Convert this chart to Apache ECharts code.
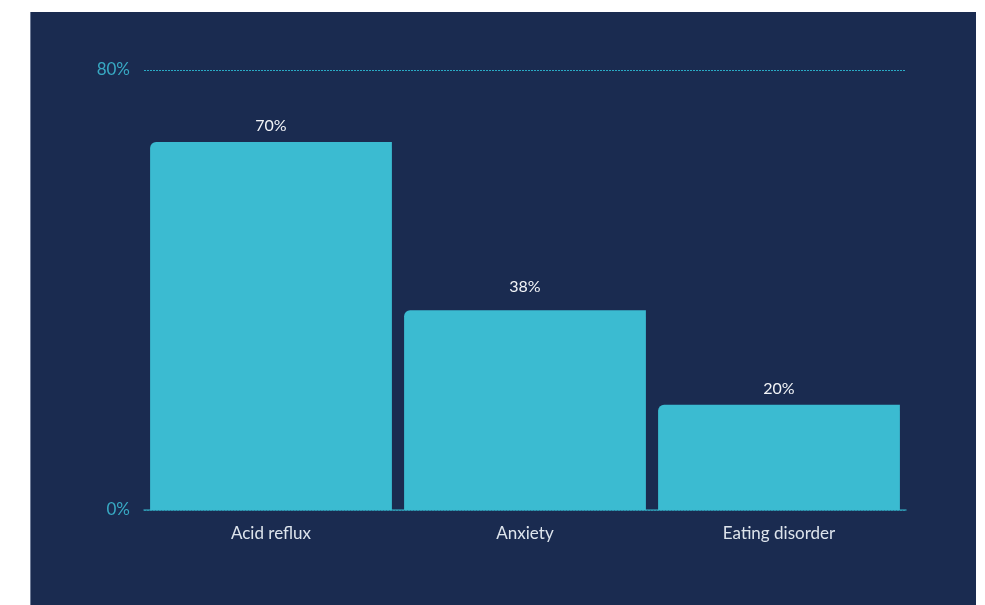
<!DOCTYPE html>
<html>
<head>
<meta charset="utf-8">
<script src="https://cdn.jsdelivr.net/npm/echarts@6/dist/echarts.min.js"></script>
<style>
  html, body { margin: 0; padding: 0; background: #ffffff; }
  #panel {
    position: absolute; left: 30px; top: 12px; width: 946px; height: 593px;
    background: #1a2b50; border-left: 1px solid #6d7a96; box-sizing: border-box;
  }
  #chart { position: absolute; left: 0; top: 0; width: 985px; height: 605px; }
</style>
</head>
<body>
<div id="panel"></div>
<div id="chart"></div>
<script>
// Share of patients reporting each condition
const categories = ['Acid reflux', 'Anxiety', 'Eating disorder'];
const shares = [70, 38, 20];
// Value axis range and its printed tick labels
const axisMax = 83.7;
const yTickLabels = ['0%', '80%'];

// The middle value label sits a little higher above its bar
const labelDistance = [8, 15, 8];

const chart = echarts.init(document.getElementById('chart'), null, { renderer: 'canvas' });
chart.setOption({
  backgroundColor: 'transparent',
  animation: false,
  textStyle: { fontFamily: 'Lato, "Noto Sans", sans-serif' },
  grid: { left: 144, right: 79, top: 70, bottom: 95 },
  xAxis: {
    type: 'category',
    data: categories,
    axisLine: { show: true, lineStyle: { color: '#2f8fa8', width: 1.5 } },
    axisTick: { show: false },
    axisLabel: { color: '#dde4ec', fontSize: 17, margin: 15, fontFamily: 'Lato' }
  },
  yAxis: {
    type: 'value',
    min: 0,
    max: axisMax,
    interval: axisMax,
    axisLine: { show: false },
    axisTick: { show: false },
    axisLabel: {
      color: '#38a9c3', fontSize: 17, margin: 14, fontFamily: 'Lato',
      formatter: (v) => (v === 0 ? yTickLabels[0] : yTickLabels[1])
    },
    splitLine: { show: true, lineStyle: { color: '#2aaac4', type: [2, 1], width: 1 } }
  },
  series: [{
    type: 'bar',
    data: shares.map((v, i) => ({ value: v, label: { distance: labelDistance[i] } })),
    barCategoryGap: '4.8%',
    itemStyle: { color: '#3bbbd1', borderRadius: [6, 0, 0, 0] },
    label: {
      show: true, position: 'top', distance: 8,
      color: '#f2f4f7', fontSize: 16, fontFamily: 'Lato',
      formatter: (p) => p.value + '%'
    }
  }]
});
</script>
</body>
</html>
